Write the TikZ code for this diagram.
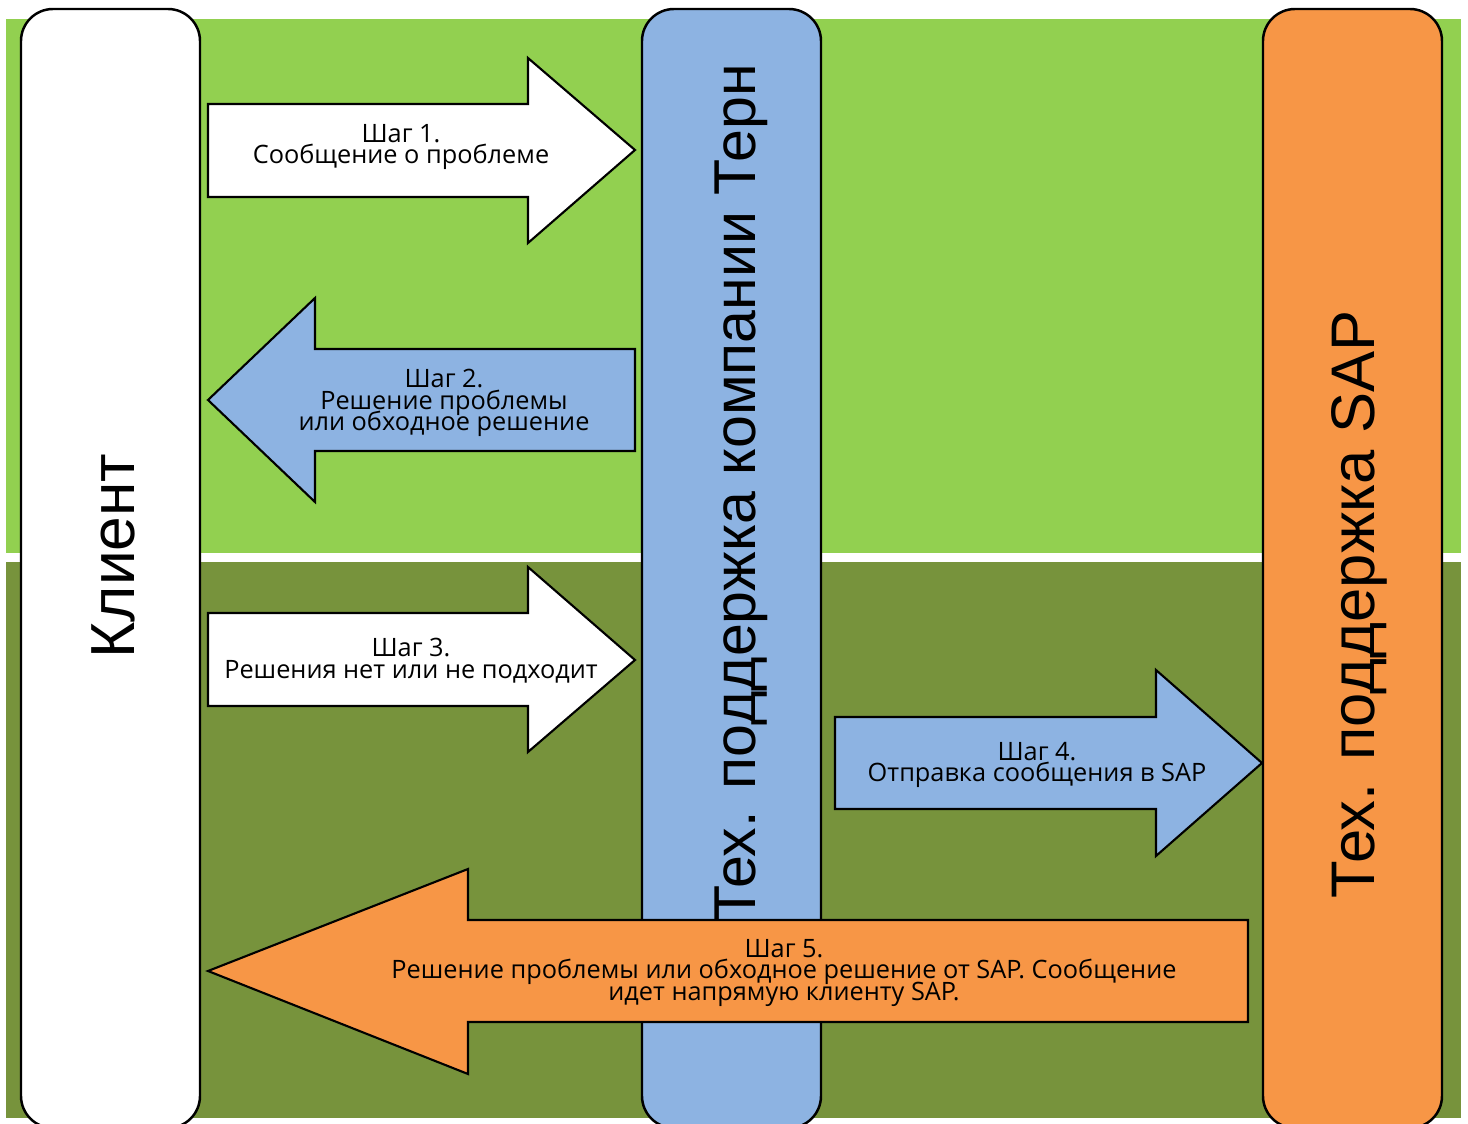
\documentclass[tikz,border=0pt]{standalone}
\usepackage{fontspec}
\setmainfont{Open Sans}
\newfontfamily\bigfont{Liberation Sans}

\definecolor{lightgreen}{HTML}{92D050}
\definecolor{darkgreen}{HTML}{77933C}
\definecolor{ternblue}{HTML}{8DB3E2}
\definecolor{saporange}{HTML}{F79646}

\newcommand\steptextfont{\fontsize{7.2}{6.2}\selectfont\setlength{\lineskiplimit}{-20pt}\setlength{\lineskip}{0pt}}

\tikzset{
  column/.style={draw=black, line width=0.7pt, rounded corners=0.32cm},
  collabel/.style={rotate=90, anchor=base, inner sep=0pt, font=\bigfont\fontsize{#1}{19}\selectfont},
  steparrow/.style={draw=black, line width=0.6pt},
  steptext/.style={align=center, inner sep=0pt, font=\steptextfont}
}

\begin{document}
\begin{tikzpicture}[x=0.01cm, y=-0.01cm]

  \clip (0,0) rectangle (1468,1124);
  \fill[white] (0,0) rectangle (1468,1124);

  % background bands
  \fill[lightgreen] (6,19) rectangle (1461,553);
  \fill[darkgreen] (6,562) rectangle (1461,1118);

  % columns
  \draw[column, fill=white] (21,9) rectangle (200,1128);
  \draw[column, fill=ternblue] (642,9) rectangle (821,1128);
  \draw[column, fill=saporange] (1263,9) rectangle (1442,1128);

  \node[collabel=17.7] (client) at (135,556) {Клиент};
  \node[collabel=16.8] (tern) at (755,493) {Тех. поддержка компании Терн};
  \node[collabel=17.5] (sap) at (1374,604) {Тех. поддержка SAP};

  % step arrows
  \draw[steparrow, fill=white] (208,104)--(528,104)--(528,58)--(635,150)--(528,243)--(528,197)--(208,197)--cycle;
  \draw[steparrow, fill=ternblue] (635,349)--(315,349)--(315,298)--(208,400)--(315,502)--(315,451)--(635,451)--cycle;
  \draw[steparrow, fill=white] (208,613)--(528,613)--(528,567)--(635,660)--(528,752)--(528,706)--(208,706)--cycle;
  \draw[steparrow, fill=ternblue] (835,717)--(1156,717)--(1156,670)--(1262,763)--(1156,856)--(1156,809)--(835,809)--cycle;
  \draw[steparrow, fill=saporange] (1248,920)--(468,920)--(468,869)--(208,971)--(468,1074)--(468,1022)--(1248,1022)--cycle;

  \node[steptext] (step1) at (401,147) {Шаг 1.\\Сообщение о проблеме};
  \node[steptext] (step2) at (444,403) {Шаг 2.\\Решение проблемы\\или обходное решение};
  \node[steptext] (step3) at (411,661) {Шаг 3.\\Решения нет или не подходит};
  \node[steptext] (step4) at (1037,765) {Шаг 4.\\Отправка сообщения в SAP};
  \node[steptext] (step5) at (784,973) {Шаг 5.\\Решение проблемы или обходное решение от SAP. Сообщение\\идет напрямую клиенту SAP.};

\end{tikzpicture}
\end{document}
